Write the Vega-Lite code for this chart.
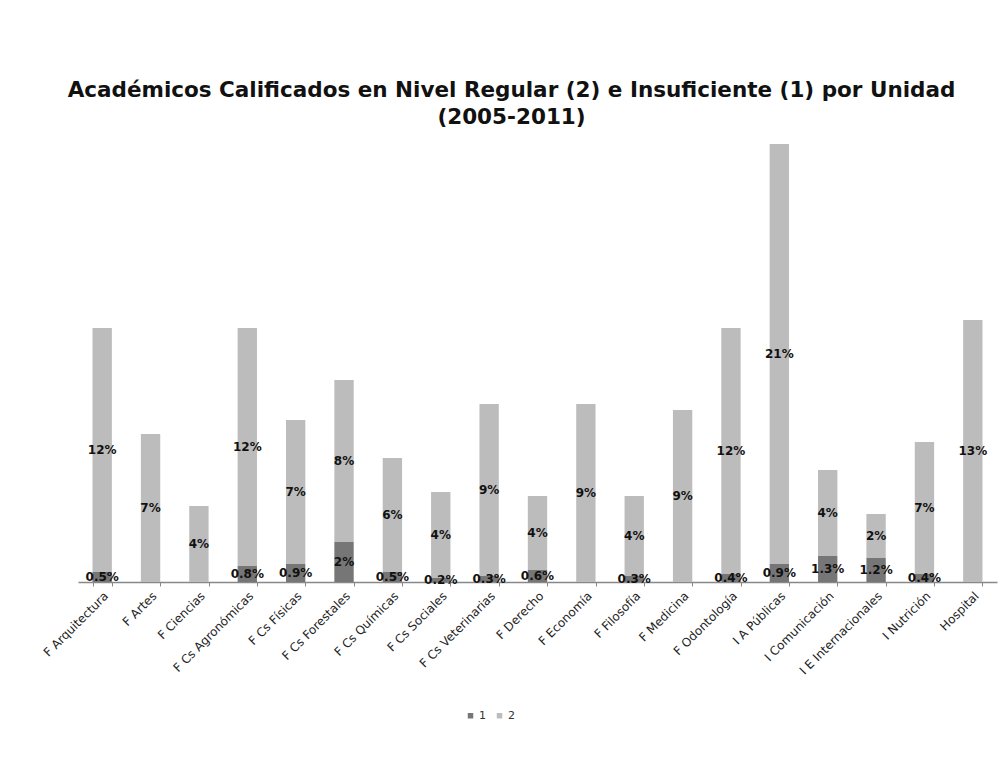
{
  "$schema": "https://vega.github.io/schema/vega-lite/v6.json",
  "autosize": {"type": "none"},
  "padding": {"left": 78, "top": 142, "right": 7, "bottom": 176},
  "width": 919,
  "height": 440,
  "background": "white",
  "title": {
    "text": ["Académicos Calificados en Nivel Regular (2) e Insuficiente (1) por Unidad", "(2005-2011)"],
    "font": "DejaVu Sans",
    "fontSize": 21.5,
    "fontWeight": "bold",
    "color": "#111",
    "anchor": "middle",
    "dx": -26,
    "offset": 14,
    "lineHeight": 27
  },
  "data": {
    "values": [
      {"unit": "F Arquitectura", "s": "1", "v": 0.005},
      {"unit": "F Arquitectura", "s": "2", "v": 0.122},
      {"unit": "F Artes", "s": "2", "v": 0.074},
      {"unit": "F Ciencias", "s": "2", "v": 0.038},
      {"unit": "F Cs Agronómicas", "s": "1", "v": 0.008},
      {"unit": "F Cs Agronómicas", "s": "2", "v": 0.119},
      {"unit": "F Cs Físicas", "s": "1", "v": 0.009},
      {"unit": "F Cs Físicas", "s": "2", "v": 0.072},
      {"unit": "F Cs Forestales", "s": "1", "v": 0.02},
      {"unit": "F Cs Forestales", "s": "2", "v": 0.081},
      {"unit": "F Cs Químicas", "s": "1", "v": 0.005},
      {"unit": "F Cs Químicas", "s": "2", "v": 0.057},
      {"unit": "F Cs Sociales", "s": "1", "v": 0.002},
      {"unit": "F Cs Sociales", "s": "2", "v": 0.043},
      {"unit": "F Cs Veterinarias", "s": "1", "v": 0.003},
      {"unit": "F Cs Veterinarias", "s": "2", "v": 0.086},
      {"unit": "F Derecho", "s": "1", "v": 0.006},
      {"unit": "F Derecho", "s": "2", "v": 0.037},
      {"unit": "F Economía", "s": "2", "v": 0.089},
      {"unit": "F Filosofía", "s": "1", "v": 0.003},
      {"unit": "F Filosofía", "s": "2", "v": 0.04},
      {"unit": "F Medicina", "s": "2", "v": 0.086},
      {"unit": "F Odontología", "s": "1", "v": 0.004},
      {"unit": "F Odontología", "s": "2", "v": 0.123},
      {"unit": "I A Públicas", "s": "1", "v": 0.009},
      {"unit": "I A Públicas", "s": "2", "v": 0.21},
      {"unit": "I Comunicación", "s": "1", "v": 0.013},
      {"unit": "I Comunicación", "s": "2", "v": 0.043},
      {"unit": "I E Internacionales", "s": "1", "v": 0.012},
      {"unit": "I E Internacionales", "s": "2", "v": 0.022},
      {"unit": "I Nutrición", "s": "1", "v": 0.004},
      {"unit": "I Nutrición", "s": "2", "v": 0.066},
      {"unit": "Hospital", "s": "2", "v": 0.131}
    ]
  },
  "transform": [
    {"stack": "v", "groupby": ["unit"], "sort": [{"field": "s", "order": "ascending"}], "as": ["y0", "y1"]}
  ],
  "encoding": {
    "x": {
      "field": "unit",
      "type": "nominal",
      "sort": null,
      "scale": {"paddingInner": 0.6, "paddingOuter": 0.3},
      "axis": {
        "title": null,
        "labelAngle": -45,
        "labelFont": "DejaVu Sans",
        "labelFontSize": 12,
        "labelColor": "#222",
        "labelPadding": 4,
        "domainColor": "#888",
        "domainWidth": 1.5,
        "tickColor": "#888",
        "tickSize": 4,
        "tickBand": "extent"
      }
    }
  },
  "layer": [
    {
      "mark": {"type": "bar"},
      "encoding": {
        "y": {"field": "y0", "type": "quantitative", "scale": {"domain": [0, 0.22]}, "axis": null},
        "y2": {"field": "y1"},
        "color": {
          "field": "s",
          "type": "nominal",
          "scale": {"domain": ["1", "2"], "range": ["#767676", "#bcbcbc"]},
          "legend": {
            "title": null,
            "orient": "none",
            "direction": "horizontal",
            "legendX": 387,
            "legendY": 568,
            "symbolType": "square",
            "symbolSize": 30,
            "labelFont": "DejaVu Sans",
            "labelFontSize": 11,
            "labelColor": "#333",
            "labelOffset": 3,
            "columnPadding": 8
          }
        }
      }
    },
    {
      "transform": [
        {"filter": "datum.s == '1'"},
        {"fold": ["y0", "y1"], "as": ["k", "yy"]},
        {"aggregate": [{"op": "mean", "field": "yy", "as": "ym"}], "groupby": ["unit", "s", "v"]}
      ],
      "mark": {"type": "text", "font": "DejaVu Sans", "fontSize": 12, "fontWeight": "bold", "color": "#111"},
      "encoding": {
        "y": {"field": "ym", "type": "quantitative"},
        "text": {"field": "v", "type": "quantitative", "format": ".1~%"}
      }
    },
    {
      "transform": [
        {"filter": "datum.s == '2'"},
        {"fold": ["y0", "y1"], "as": ["k", "yy"]},
        {"aggregate": [{"op": "mean", "field": "yy", "as": "ym"}], "groupby": ["unit", "s", "v"]}
      ],
      "mark": {"type": "text", "font": "DejaVu Sans", "fontSize": 12, "fontWeight": "bold", "color": "#111"},
      "encoding": {
        "y": {"field": "ym", "type": "quantitative"},
        "text": {"field": "v", "type": "quantitative", "format": ".0%"}
      }
    }
  ],
  "config": {
    "view": {"stroke": null},
    "axis": {"grid": false}
  }
}
